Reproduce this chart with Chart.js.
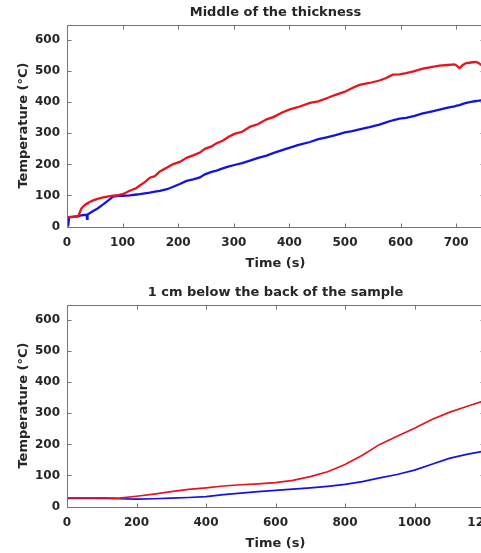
<!DOCTYPE html>
<html>
<head>
<meta charset="utf-8">
<script src="https://cdn.jsdelivr.net/npm/chart.js@4.4.0/dist/chart.umd.min.js"></script>
<style>
  html, body { margin: 0; padding: 0; background: #fff; overflow: hidden; width: 481px; height: 553px; }
  .box { position: absolute; left: 0; width: 490px; height: 273px; }
</style>
</head>
<body>
<div class="box" style="top:0"><canvas id="topChart" width="490" height="273"></canvas></div>
<div class="box" style="top:280px"><canvas id="bottomChart" width="490" height="273"></canvas></div>
<script>
// Middle of the thickness (time in s, temperature in degC)
var midTime = [0, 2, 4, 10, 20, 23, 26, 30, 35, 36, 37, 40, 47, 55, 65, 75, 83, 92, 100, 113, 125, 131, 140, 149, 158, 167, 180, 191, 203, 215, 227, 239, 248, 260, 269, 280, 290, 301, 315, 329, 344, 359, 372, 387, 401, 415, 437, 452, 467, 483, 500, 513, 526, 544, 562, 574, 586, 598, 610, 625, 640, 655, 670, 685, 697, 701, 706, 712, 718, 727, 736, 741, 745];
var midRed = [28, 29, 30, 31, 33, 45, 58, 66, 73, 74, 75, 78, 84, 89, 94, 97, 99, 101, 104, 115, 124, 132, 143, 157, 162, 177, 190, 201, 208, 221, 229, 238, 250, 258, 268, 276, 288, 298, 305, 321, 330, 345, 353, 367, 377, 384, 398, 403, 413, 424, 434, 446, 456, 462, 470, 478, 489, 490, 494, 500, 508, 513, 518, 520, 522, 518, 510, 520, 526, 528, 530, 526, 519];
var midBlue = [28, 0, 30, 31, 33, 35, 36, 37, 38, 25, 39, 42, 50, 58, 71, 85, 96, 99, 99, 100, 103, 104, 107, 109, 112, 115, 120, 128, 137, 147, 152, 158, 168, 176, 180, 187, 193, 198, 204, 212, 221, 228, 237, 246, 254, 262, 272, 281, 287, 294, 303, 307, 313, 320, 328, 335, 342, 347, 350, 356, 364, 370, 376, 383, 387, 389, 391, 395, 398, 401, 404, 405, 406];

// 1 cm below the back of the sample
var backTime = [0, 50, 100, 150, 200, 250, 300, 350, 400, 450, 500, 550, 600, 650, 700, 750, 800, 850, 900, 950, 1000, 1050, 1100, 1150, 1200];
var backRed = [28, 28, 28, 27, 33, 40, 48, 55, 60, 66, 70, 73, 77, 84, 96, 112, 135, 165, 200, 226, 252, 280, 303, 322, 340];
var backBlue = [26, 26, 26, 25, 24, 25, 27, 29, 32, 38, 43, 48, 52, 56, 60, 65, 71, 80, 92, 103, 117, 136, 155, 168, 178];

var yStep = 100;
var frameColor = '#767676';
var textColor = '#262626';

Chart.defaults.font.family = "'DejaVu Sans', 'Liberation Sans', sans-serif";
Chart.defaults.font.weight = 'bold';
Chart.defaults.font.size = 12;
Chart.defaults.color = textColor;

function pts(xs, ys) {
  return xs.map(function(x, i) { return { x: x, y: ys[i] }; });
}

// only keep ticks on the step (drop the axis max like 650 / 750)
function stepTicks(step) {
  return function(scale) {
    scale.ticks = scale.ticks.filter(function(t) { return t.value % step === 0; });
  };
}

// box round the plot with inward ticks, matlab style
var framePlugin = {
  id: 'matlabFrame',
  afterLayout: function(chart) {
    if (chart.titleBlock) {
      chart.titleBlock.left = chart.chartArea.left;
      chart.titleBlock.right = chart.chartArea.right;
    }
  },
  afterDraw: function(chart) {
    var ctx = chart.ctx, a = chart.chartArea;
    var xs = chart.scales.x, ys = chart.scales.y;
    var l = Math.round(a.left) + 0.5, r = Math.round(a.right) + 0.5;
    var t = Math.round(a.top) + 0.5, b = Math.round(a.bottom) + 0.5;
    ctx.save();
    ctx.strokeStyle = frameColor;
    ctx.lineWidth = 1;
    ctx.beginPath();
    ctx.moveTo(l, t); ctx.lineTo(r, t); ctx.lineTo(r, b); ctx.lineTo(l, b); ctx.closePath();
    xs.ticks.forEach(function(tk) {
      var px = Math.round(xs.getPixelForValue(tk.value)) + 0.5;
      ctx.moveTo(px, b); ctx.lineTo(px, b - 4);
      ctx.moveTo(px, t); ctx.lineTo(px, t + 4);
    });
    ys.ticks.forEach(function(tk) {
      var py = Math.round(ys.getPixelForValue(tk.value)) + 0.5;
      ctx.moveTo(l, py); ctx.lineTo(l + 4, py);
      ctx.moveTo(r, py); ctx.lineTo(r - 4, py);
    });
    ctx.stroke();
    ctx.restore();
  }
};

function makeChart(id, title, time, red, blue, xMax, xStep, lw) {
  var ctx = document.getElementById(id).getContext('2d');
  return new Chart(ctx, {
    type: 'line',
    data: {
      datasets: [
        { data: pts(time, red), borderColor: '#e8141c', borderWidth: lw, pointRadius: 0, tension: 0 },
        { data: pts(time, blue), borderColor: '#1414e0', borderWidth: lw, pointRadius: 0, tension: 0 }
      ]
    },
    options: {
      responsive: false,
      animation: false,
      layout: { padding: { left: 0, right: 6, top: 0, bottom: 0 } },
      plugins: {
        legend: { display: false },
        tooltip: { enabled: false },
        title: {
          display: true,
          text: title,
          color: textColor,
          font: { size: 13, weight: 'bold' },
          padding: { top: 5, bottom: 4 }
        }
      },
      scales: {
        x: {
          type: 'linear',
          min: 0,
          max: xMax,
          grid: { display: false, drawTicks: false },
          border: { display: false },
          ticks: {
            stepSize: xStep, padding: 9, maxRotation: 0, includeBounds: false,
            callback: function(v) { return String(v); }
          },
          afterBuildTicks: stepTicks(xStep),
          title: { display: true, text: 'Time (s)', font: { size: 13 }, padding: { top: 0, bottom: 2 } },
          afterFit: function(scale) {
            scale.height = 46.5;
            scale.paddingLeft = 0;
            scale.paddingRight = 0;
          }
        },
        y: {
          min: 0,
          max: 650,
          grid: { display: false, drawTicks: false },
          border: { display: false },
          ticks: { stepSize: yStep, padding: 7, includeBounds: false },
          afterBuildTicks: stepTicks(yStep),
          title: { display: true, text: 'Temperature (°C)', font: { size: 13 }, padding: { top: 16, bottom: 0 } },
          afterFit: function(scale) {
            scale.width = 67;
            scale.paddingTop = 0;
            scale.paddingBottom = 0;
          }
        }
      }
    },
    plugins: [framePlugin]
  });
}

makeChart('topChart', 'Middle of the thickness', midTime, midRed, midBlue, 750, 100, 2.3);
makeChart('bottomChart', '1 cm below the back of the sample', backTime, backRed, backBlue, 1200, 200, 1.7);
</script>
</body>
</html>
